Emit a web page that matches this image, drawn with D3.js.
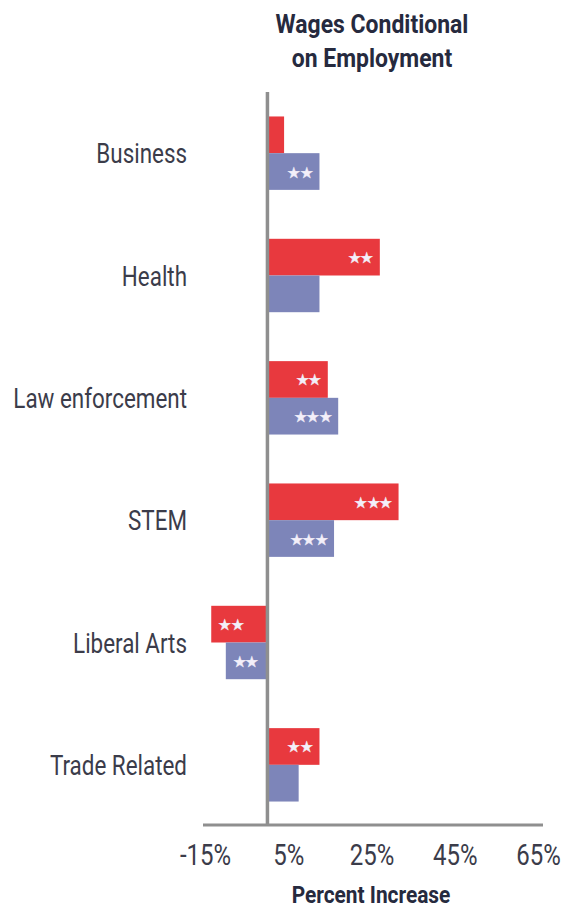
<!DOCTYPE html>
<html>
<head>
<meta charset="utf-8">
<script src="https://cdn.jsdelivr.net/npm/d3@7"></script>
<style>
  html, body { margin: 0; padding: 0; background: #fff; }
  svg { display: block; }
  text { font-family: Roboto, "Liberation Sans", sans-serif; }
</style>
</head>
<body>
<svg id="chart" width="566" height="912"></svg>
<script>
const categories = ["Business", "Health", "Law enforcement", "STEM", "Liberal Arts", "Trade Related"];
const redValues = [4, 27, 14.5, 31.5, -13.5, 12.5];
const blueValues = [12.5, 12.5, 17, 16, -10, 7.5];
const redSig = ["", "**", "**", "***", "**", "**"];
const blueSig = ["**", "", "***", "***", "**", ""];
const tickValues = [-15, 5, 25, 45, 65];
const titleLines = ["Wages Conditional", "on Employment"];
const xTitle = "Percent Increase";

const colors = { red: "#e8393e", blue: "#7d85b9", grey: "#8f8f8f", text: "#3b3c4a", title: "#262a3e" };

const svg = d3.select("#chart");

const x = d3.scaleLinear().domain([-15, 65]).range([205, 538]);
const y = d3.scaleBand().domain(categories).range([92, 826]).paddingInner(0.4).paddingOuter(0.2);
const sub = d3.scaleBand().domain(["red", "blue"]).range([0, y.bandwidth()]);

const series = [
  { key: "red", values: redValues, sig: redSig, color: colors.red },
  { key: "blue", values: blueValues, sig: blueSig, color: colors.blue }
];

const rows = [];
series.forEach(s => {
  categories.forEach((c, i) => rows.push({ cat: c, key: s.key, v: s.values[i], sig: s.sig[i], color: s.color }));
});

// bars
svg.append("g").selectAll("rect").data(rows).join("rect")
  .attr("x", d => Math.min(x(0), x(d.v)))
  .attr("width", d => Math.abs(x(d.v) - x(0)))
  .attr("y", d => y(d.cat) + sub(d.key))
  .attr("height", sub.bandwidth())
  .attr("fill", d => d.color);

// significance stars
const starTxt = s => s.replace(/\*/g, "\u2605");
svg.append("g").selectAll("text").data(rows.filter(d => d.sig)).join("text")
  .attr("x", d => d.v >= 0 ? x(d.v) - 7 : x(d.v) + 7)
  .attr("y", d => y(d.cat) + sub(d.key) + sub.bandwidth() / 2 + 1)
  .attr("text-anchor", d => d.v >= 0 ? "end" : "start")
  .attr("dominant-baseline", "central")
  .attr("font-family", "DejaVu Sans")
  .attr("font-size", 15)
  .attr("letter-spacing", -0.5)
  .attr("fill", "#f3eff9")
  .attr("stroke", "#f3eff9")
  .attr("stroke-width", 0.4)
  .text(d => starTxt(d.sig));

// x axis line
const xAxis = d3.axisBottom(x).tickValues(tickValues).tickSize(0).tickPadding(0).tickFormat(d => d + "%");
const gx = svg.append("g").attr("transform", "translate(0,825)").call(xAxis);
gx.select(".domain").attr("d", `M203,0H543`).attr("stroke", colors.grey).attr("stroke-width", 3);
gx.selectAll(".tick text").remove();
gx.selectAll(".tick").append("text")
  .attr("transform", "translate(0,40) scale(0.8,1)")
  .attr("text-anchor", "middle")
  .attr("font-size", 30)
  .attr("fill", colors.text)
  .text(d => d + "%");

// zero line
svg.append("line")
  .attr("x1", x(0)).attr("x2", x(0))
  .attr("y1", 92).attr("y2", 826)
  .attr("stroke", colors.grey).attr("stroke-width", 3.5);

// category labels
svg.append("g").selectAll("text").data(categories).join("text")
  .attr("transform", d => `translate(187,${y(d) + y.bandwidth() / 2 + 10}) scale(0.83,1)`)
  .attr("text-anchor", "end")
  .attr("font-size", 27)
  .attr("fill", colors.text)
  .text(d => d);

// title
svg.append("g").selectAll("text").data(titleLines).join("text")
  .attr("transform", (d, i) => `translate(372,${33 + i * 34}) scale(0.9,1)`)
  .attr("text-anchor", "middle")
  .attr("font-size", 25.5)
  .attr("font-weight", "bold")
  .attr("fill", colors.title)
  .text(d => d);

// x title
svg.append("text")
  .attr("transform", "translate(371,903) scale(0.87,1)")
  .attr("text-anchor", "middle")
  .attr("font-size", 24)
  .attr("font-weight", "bold")
  .attr("fill", colors.title)
  .text(xTitle);
</script>
</body>
</html>
